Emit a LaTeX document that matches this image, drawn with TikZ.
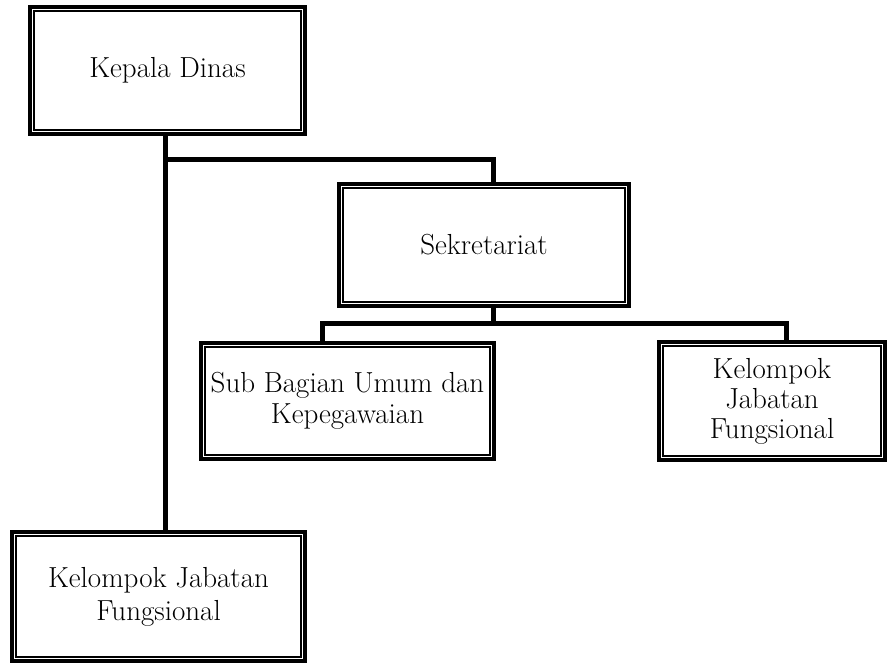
\documentclass[tikz,border=0pt]{standalone}
\usetikzlibrary{calc}
\begin{document}
\begin{tikzpicture}[x=1pt,y=-1pt,
  unitbox/.style={draw, rectangle, line width=4pt, outer sep=0pt, inner sep=0pt,
    align=center, font=\fontsize{29}{31.5}\selectfont},
  innerframe/.style={line width=1.8pt},
  conn/.style={line width=5pt, line join=miter}]
\useasboundingbox (0,0) rectangle (888,664);

% organisational units (outer line centred on the given size)
\node[unitbox, minimum width=275pt, minimum height=127pt] (kd)   at (167.5,70.5) {Kepala Dinas};
\node[unitbox, minimum width=290pt, minimum height=122pt] (sek)  at (484,245)    {Sekretariat};
\node[unitbox, minimum width=293pt, minimum height=116pt] (sub)  at (347.5,401)  {Sub Bagian Umum dan\\Kepegawaian};
\node[unitbox, minimum width=226pt, minimum height=118pt, font=\fontsize{29}{30}\selectfont] (kjf2) at (772,401) {Kelompok\\Jabatan\\Fungsional};
\node[unitbox, minimum width=293pt, minimum height=129pt, font=\fontsize{29}{33}\selectfont] (kjf1) at (158.5,596.5) {Kelompok Jabatan\\Fungsional};

% thin inner line of the double frame
\foreach \n in {kd,sek,sub,kjf2,kjf1}
  \draw[innerframe] ($(\n.north west)+(4.3pt,-4.3pt)$) rectangle ($(\n.south east)+(-4.3pt,4.3pt)$);

% connector levels
\coordinate (branch) at (0,159.5);
\coordinate (bus) at (0,323.5);

\draw[conn] ([xshift=-2pt]kd.south) -- ([xshift=-2pt]kd.south |- kjf1.north);
\draw[conn] ([xshift=-2pt]kd.south |- branch) -| ([xshift=9pt]sek.north);
\draw[conn] ([xshift=9pt]sek.south) -- ([xshift=9pt]sek.south |- bus);
\draw[conn] ([xshift=-25.5pt]sub.north) |- ([xshift=14pt]kjf2.north |- bus) -- ([xshift=14pt]kjf2.north);
\end{tikzpicture}
\end{document}
